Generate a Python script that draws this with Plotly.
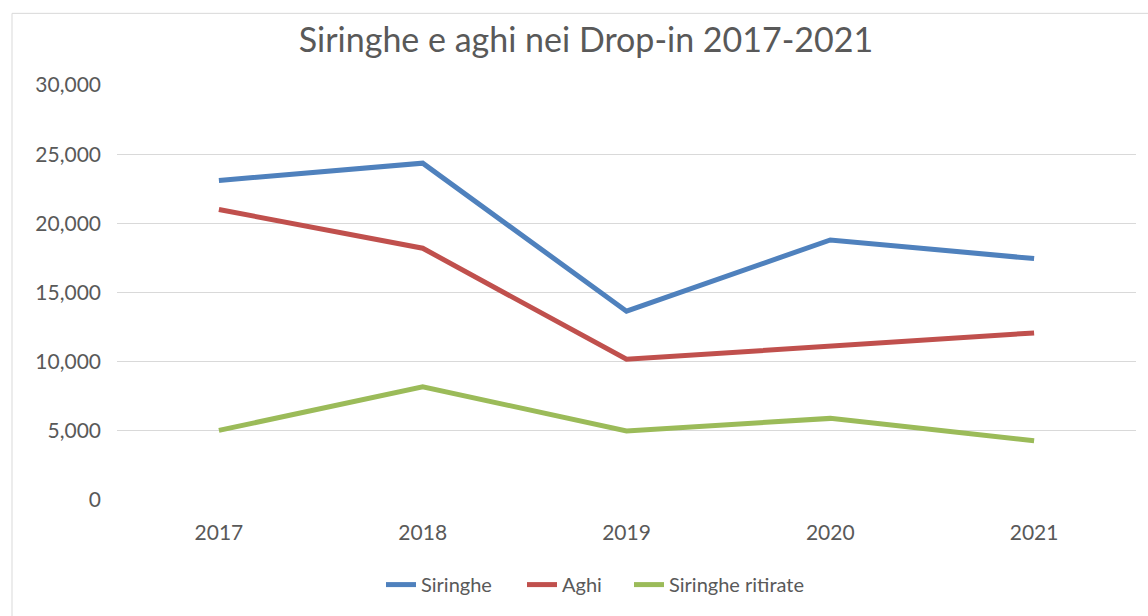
import plotly.graph_objects as go

years = ["2017", "2018", "2019", "2020", "2021"]
siringhe = [23100, 24350, 13650, 18800, 17450]
aghi = [21000, 18200, 10170, 11120, 12080]
siringhe_ritirate = [5030, 8180, 4990, 5900, 4280]

series = [
    ("Siringhe", siringhe, "#4F81BD"),
    ("Aghi", aghi, "#C0504D"),
    ("Siringhe ritirate", siringhe_ritirate, "#9BBB59"),
]

font_family = "Lato, 'Open Sans', sans-serif"
txt = "#595959"

W, H = 1148, 616
L, R, T, B = 117, 12, 85, 114
PW = W - L - R
PH = H - T - B

legend_names = ["legend", "legend2", "legend3"]
legend_left_px = [386, 527, 634]

fig = go.Figure()
for (name, vals, col), lg in zip(series, legend_names):
    fig.add_trace(go.Scatter(
        x=years, y=vals, name=name, mode="lines",
        line=dict(color=col, width=5), legend=lg,
    ))

legend_y = (T + PH - 587) / PH
legend_layout = {}
for lg, px in zip(legend_names, legend_left_px):
    legend_layout[lg] = dict(
        orientation="h", x=(px - 5 - L) / PW, xanchor="left",
        y=legend_y, yanchor="middle", bgcolor="rgba(0,0,0,0)",
        font=dict(size=20, color=txt), itemwidth=30,
    )

fig.update_layout(
    width=W, height=H,
    margin=dict(l=L, r=R, t=T, b=B, pad=0),
    paper_bgcolor="white", plot_bgcolor="white",
    font=dict(family=font_family, color=txt, size=21),
    title=dict(text="Siringhe e aghi nei Drop-in 2017-2021",
               font=dict(size=34, color=txt, family=font_family),
               x=586 / W, xanchor="center", xref="container",
               y=1 - 40 / H, yanchor="middle"),
    showlegend=True,
    **legend_layout,
)
fig.update_xaxes(type="category", range=[-0.5, len(years) - 0.5],
                 showgrid=False, showline=False,
                 ticks="", tickfont=dict(size=21, color=txt),
                 ticklabelstandoff=18)
fig.update_yaxes(range=[0, 30000], dtick=5000, tickformat=",",
                 showgrid=True, gridcolor="#D9D9D9", gridwidth=1,
                 zeroline=False, showline=False, ticks="",
                 tickfont=dict(size=21, color=txt),
                 ticklabelstandoff=15)

fig.add_shape(type="rect", xref="paper", yref="paper",
              x0=(12 - L) / PW, x1=1.2, y0=-0.5, y1=(T + PH - 13) / PH,
              line=dict(color="#D9D9D9", width=1), layer="below")

fig.write_html("out.html", config={"displayModeBar": False},
               post_script="document.body.style.margin='0';document.body.style.overflow='hidden';")
